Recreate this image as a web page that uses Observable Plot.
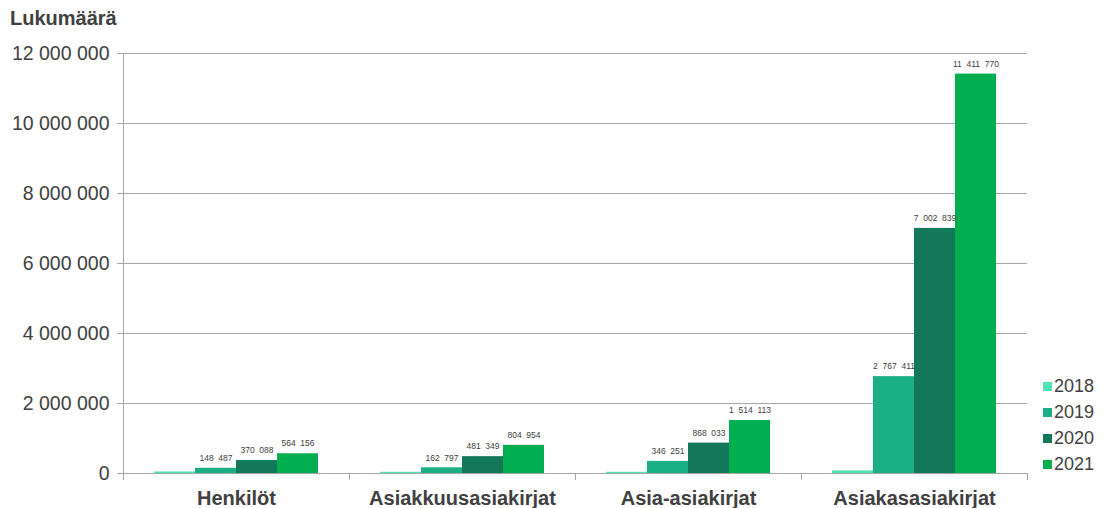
<!DOCTYPE html>
<html>
<head>
<meta charset="utf-8">
<script src="https://cdn.jsdelivr.net/npm/d3@7"></script>
<script src="https://cdn.jsdelivr.net/npm/@observablehq/plot@0.6"></script>
<style>
  body { margin: 0; background: #fff; font-family: "Liberation Sans", Arial, sans-serif; }
  #wrap { position: relative; width: 1103px; height: 508px; }
  #title { height: 30px; line-height: 36px; padding-left: 10px; font-size: 20px; font-weight: bold; color: #404040; overflow: visible; }
  #legend { position: absolute; left: 1043px; top: 373px; font-size: 18px; color: #404040; }
  #legend div { height: 26px; line-height: 26px; white-space: nowrap; }
  #legend span.sw { display: inline-block; width: 9px; height: 9px; margin-right: 2px; vertical-align: 1px; }
</style>
</head>
<body>
<div id="wrap">
  <div id="title">Lukumäärä</div>
  <div id="chart"></div>
  <div id="legend"></div>
</div>
<script>
const categories = ["Henkilöt", "Asiakkuusasiakirjat", "Asia-asiakirjat", "Asiakasasiakirjat"];
const years = ["2018", "2019", "2020", "2021"];
const values2018 = [45000, 35000, 35000, 75000];
const values2019 = [148487, 162797, 346251, 2767411];
const values2020 = [370088, 481349, 868033, 7002839];
const values2021 = [564156, 804954, 1514113, 11411770];
const yTicks = [0, 2000000, 4000000, 6000000, 8000000, 10000000, 12000000];
const colors = ["#50e3b5", "#1aaf84", "#13775a", "#01af50"];
const labeledYears = ["2019", "2020", "2021"];

const series = [values2018, values2019, values2020, values2021];
const data = categories.flatMap((c, i) => years.map((yr, j) => ({category: c, year: yr, value: series[j][i]})));
const labelData = data.filter(d => labeledYears.includes(d.year));

const fmt = d3.format(",");
const axisFmt = v => fmt(v).replace(/,/g, " ");
const labelFmt = v => fmt(v).replace(/,/g, "\u2007");

const grey = "#a6a6a6";

const plot = Plot.plot({
  width: 1103,
  height: 478,
  marginTop: 23,
  marginBottom: 35,
  marginLeft: 122,
  marginRight: 76,
  style: {fontFamily: "'Liberation Sans', Arial, sans-serif", background: "white", color: "#404040", overflow: "visible"},
  fx: {domain: categories, padding: 0, label: null},
  x: {domain: years, paddingInner: 0, paddingOuter: 0.75, axis: null},
  y: {domain: [0, 12000000], label: null},
  color: {domain: years, range: colors},
  marks: [
    Plot.gridY(yTicks, {stroke: grey, strokeOpacity: 1, strokeWidth: 1}),
    Plot.barY(data, {fx: "category", x: "year", y: "value", fill: "year"}),
    Plot.ruleY([0], {stroke: grey, strokeWidth: 1}),
    Plot.text(labelData, {fx: "category", x: "year", y: "value", text: d => labelFmt(d.value), dy: -10, fontSize: 8.5, fill: "#404040"}),
    Plot.axisY(yTicks, {tickFormat: axisFmt, fontSize: 19.5, tickSize: 6, tickPadding: 8, stroke: grey, fill: "#404040", label: null}),
    Plot.axisFx({anchor: "bottom", tickSize: 0, tickPadding: 17, fontSize: 20, fontWeight: "bold", fill: "#404040", label: null})
  ]
});

// Axis decorations (vertical y axis line and category boundary ticks) from the plot's own scales
const fxs = plot.scale("fx");
const ys = plot.scale("y");
const y0 = ys.apply(0);
const yTop = ys.apply(12000000);
const svg = d3.select(plot);
const left = fxs.apply(categories[0]);
const g = svg.append("g").attr("stroke", grey).attr("stroke-width", 1);
g.append("line").attr("x1", left + 0.5).attr("x2", left + 0.5).attr("y1", yTop).attr("y2", y0 + 7);
const bounds = categories.map(c => fxs.apply(c)).concat([fxs.apply(categories[categories.length - 1]) + fxs.bandwidth]);
bounds.forEach(b => g.append("line").attr("x1", b + 0.5).attr("x2", b + 0.5).attr("y1", y0).attr("y2", y0 + 7));

document.getElementById("chart").appendChild(plot);

const legend = document.getElementById("legend");
years.forEach((yr, i) => {
  const row = document.createElement("div");
  row.innerHTML = `<span class="sw" style="background:${colors[i]}"></span>${yr}`;
  legend.appendChild(row);
});
</script>
</body>
</html>
